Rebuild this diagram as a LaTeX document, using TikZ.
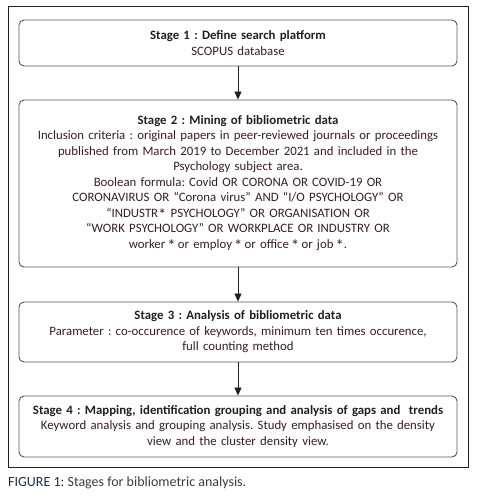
\documentclass[tikz,border=0pt]{standalone}
\usepackage{fontspec}
\usepackage{graphicx}
\setmainfont{Carlito}
\usetikzlibrary{arrows.meta}
\frenchspacing
\definecolor{bodytxt}{RGB}{55,30,30}
\definecolor{titletxt}{RGB}{35,31,32}
\definecolor{boxline}{RGB}{85,85,85}
\definecolor{capblue}{RGB}{30,45,70}
\definecolor{captxt}{RGB}{60,60,60}
\newcommand{\midast}{\raisebox{-0.55ex}{\scalebox{1.3}{*}}}
\tikzset{
  stagebox/.style={draw=boxline, line width=0.9pt, rounded corners=5pt, minimum width=438pt, text width=434pt, align=center, inner sep=0pt, text=bodytxt, font={\fontsize{12.8}{15.5}\selectfont\lineskiplimit=-20pt}},
  flowarrow/.style={draw=titletxt, line width=0.9pt, -{Triangle[length=8pt,width=7pt]}},
  frame/.style={draw=titletxt, line width=0.9pt}
}
\begin{document}
\begin{tikzpicture}[x=1pt,y=1pt]
\useasboundingbox (0,0) rectangle (478,503);
\draw[frame] (8,36) rectangle (468,497);
\node[stagebox, minimum height=46pt] (s1) at (238,460) {\textcolor{titletxt}{\textbf{Stage 1 : Define search platform}}\\SCOPUS database};
\node[stagebox, minimum height=167pt] (s2) at (238,319.5) {\textcolor{titletxt}{\textbf{Stage 2 : Mining of bibliometric data}}\\
Inclusion criteria : original papers in peer-reviewed journals or proceedings\\
published from March 2019 to December 2021 and included in the\\
Psychology subject area.\\
Boolean formula: Covid OR CORONA OR COVID-19 OR\\
CORONAVIRUS OR “Corona virus” AND “I/O PSYCHOLOGY” OR\\
“INDUSTR\midast\ PSYCHOLOGY” OR ORGANISATION OR\\
“WORK PSYCHOLOGY” OR WORKPLACE OR INDUSTRY OR\\
worker\,\midast\,or employ\,\midast\,or office\,\midast\,or job\,\midast.\\[8pt]};
\node[stagebox, minimum height=60pt] (s3) at (238,171) {\textcolor{titletxt}{\textbf{Stage 3 : Analysis of bibliometric data}}\\
Parameter : co-occurence of keywords, minimum ten times occurence,\\
full counting method};
\node[stagebox, minimum height=61pt] (s4) at (238,76.5) {\textcolor{titletxt}{\textbf{Stage 4 : Mapping, identification grouping and analysis of gaps and\ \ trends}}\\
Keyword analysis and grouping analysis. Study emphasised on the density\\
view and the cluster density view.};
\draw[flowarrow] (s1.south) -- (s2.north);
\draw[flowarrow] (s2.south) -- (s3.north);
\draw[flowarrow] (s3.south) -- (s4.north);
\node[anchor=west, inner sep=0pt, font=\fontsize{14}{16}\selectfont] (cap) at (8,20) {\textcolor{capblue}{FIGURE 1:}~\textcolor{captxt}{Stages for bibliometric analysis.}};
\end{tikzpicture}
\end{document}
